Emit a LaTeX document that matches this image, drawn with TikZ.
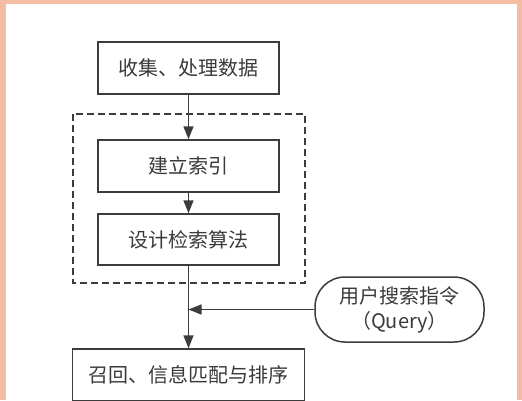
\documentclass[tikz,border=0pt]{standalone}
\usepackage{fontspec}
\setmainfont{Noto Sans CJK SC}
\usetikzlibrary{arrows.meta}
\definecolor{bgpeach}{RGB}{244,188,162}
\definecolor{ln}{RGB}{60,60,60}
\definecolor{tx}{RGB}{58,58,58}
\begin{document}
\begin{tikzpicture}[x=1pt,y=-1pt,
  stepbox/.style={draw=ln, line width=1.5pt, minimum width=181pt, minimum height=52pt,
    inner sep=0pt, text=tx, font=\fontsize{20}{24}\selectfont},
  querybox/.style={draw=ln, line width=1.5pt, minimum width=169pt, minimum height=65pt,
    rounded corners=30pt, inner sep=0pt, align=center, text=tx, font=\fontsize{20}{25}\selectfont},
  grouprect/.style={draw=ln, line width=1.5pt, dash pattern=on 7pt off 4pt},
  arr/.style={draw=ln, line width=1.5pt, -{Triangle[length=13pt,width=10pt]}}]
\useasboundingbox (0,0) rectangle (522,400);
\fill[bgpeach] (0,0) rectangle (522,400);
\fill[white] (6,4) rectangle (517,400);
\draw[grouprect] (73,114) rectangle (305,283);
\node[stepbox] (b1) at (188.5,68) {收集、处理数据};
\node[stepbox] (b2) at (188.5,166) {建立索引};
\node[stepbox, minimum height=51pt] (b3) at (188.5,239.5) {设计检索算法};
\node[stepbox, minimum width=232pt] (b4) at (188.5,375) {召回、信息匹配与排序};
\node[querybox] (q) at (399.5,309.5) {用户搜索指令\\（Query）};
\coordinate (m) at (b3.south |- q.west);
\draw[arr] (b1) -- (b2);
\draw[arr] (b2) -- (b3);
\draw[arr] (b3) -- (b4);
\draw[arr] (q.west) -- (m);
\end{tikzpicture}
\end{document}
